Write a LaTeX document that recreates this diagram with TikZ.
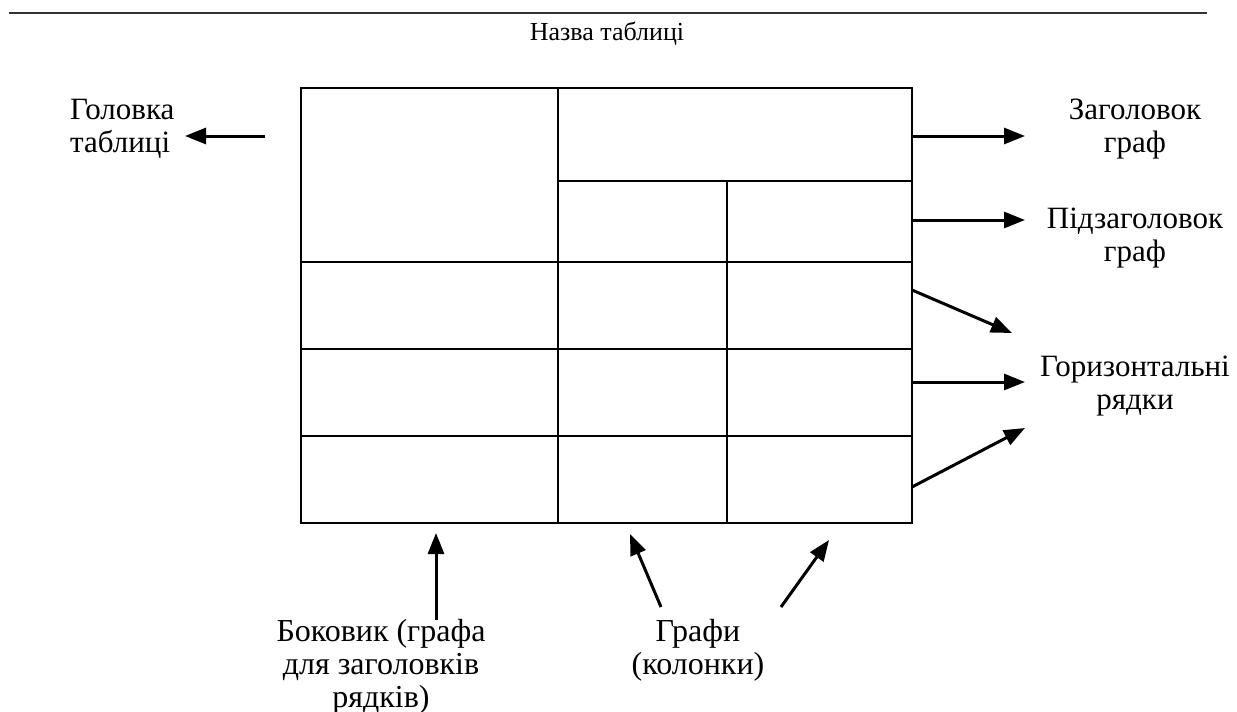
\documentclass[tikz,border=0pt]{standalone}
\usepackage{fontspec}
\setmainfont{Liberation Serif}
\usetikzlibrary{arrows.meta}
\begin{document}
\begin{tikzpicture}[x=1pt,y=-1pt,
  lbl/.style={font=\fontsize{31}{33}\selectfont, inner sep=0pt, align=center, anchor=base},
  arr/.style={line width=3pt, -{Triangle[length=21pt,width=16pt]}},
  outerline/.style={line width=2.5pt},
  innerline/.style={line width=1.6pt},
  rule/.style={line width=1.6pt, draw=black!80}]
\useasboundingbox (0,0) rectangle (1237,712);
% top rule and title
\coordinate (r1) at (9,12.7);
\coordinate (r2) at (1207,12.7);
\draw[rule] (r1) -- (r2);
\node[font=\fontsize{26}{30}\selectfont, inner sep=0pt, anchor=base] (title) at (607,40) {Назва таблиці};
% table
\draw[innerline] (558,88) -- (558,523);
\draw[innerline] (727,181) -- (727,523);
\draw[innerline] (558,181) -- (912,181);
\draw[innerline] (301,262) -- (912,262);
\draw[innerline] (301,349) -- (912,349);
\draw[innerline] (301,436) -- (912,436);
\draw[outerline] (301,88) rectangle (912,523);
% labels (anchor = baseline of the last line)
\node[lbl, align=left, anchor=base west] (head) at (70,152) {Головка\\таблиці};
\node[lbl] (zag) at (1135,152) {Заголовок\\граф};
\node[lbl] (pidzag) at (1135,261) {Підзаголовок\\граф};
\node[lbl] (hor) at (1135,409) {Горизонтальні\\рядки};
\node[lbl, font=\fontsize{32}{33}\selectfont] (bok) at (381,707) {Боковик (графа\\для заголовків\\рядків)};
\node[lbl, font=\fontsize{32}{33}\selectfont] (graf) at (698,674) {Графи\\(колонки)};
% arrow coordinates
\coordinate (a1s) at (265,136); \coordinate (a1e) at (185,136);
\coordinate (a2s) at (912,136); \coordinate (a2e) at (1025,136);
\coordinate (a3s) at (912,220); \coordinate (a3e) at (1025,220);
\coordinate (a4s) at (912,290); \coordinate (a4e) at (1012,333);
\coordinate (a5s) at (912,382); \coordinate (a5e) at (1025,382);
\coordinate (a6s) at (912,487); \coordinate (a6e) at (1025,428);
\coordinate (b1s) at (436,620); \coordinate (b1e) at (436,533);
\coordinate (b2s) at (661,607); \coordinate (b2e) at (630,534);
\coordinate (b3s) at (781,607); \coordinate (b3e) at (829,540);
\foreach \s/\e in {a1s/a1e,a2s/a2e,a3s/a3e,a4s/a4e,a5s/a5e,a6s/a6e,b1s/b1e,b2s/b2e,b3s/b3e}
  \draw[arr] (\s) -- (\e);
\end{tikzpicture}
\end{document}
